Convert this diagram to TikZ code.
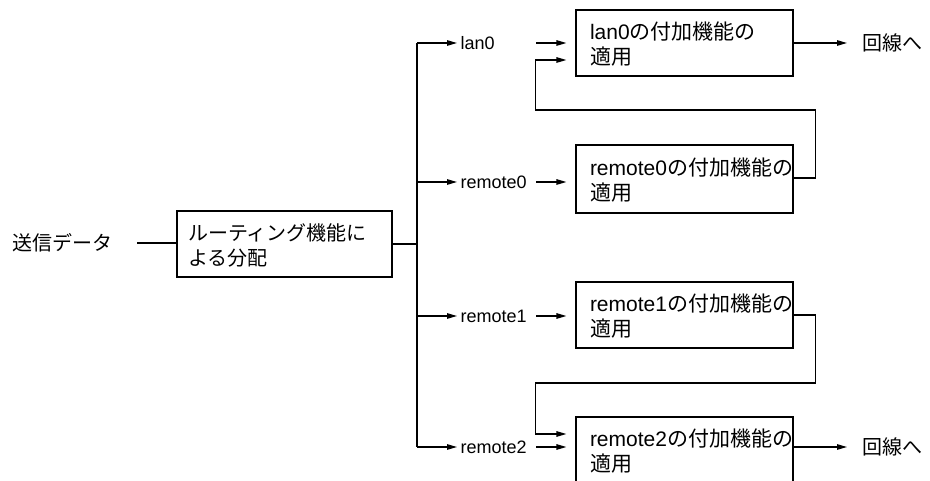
\documentclass[tikz,border=0pt]{standalone}
\usepackage{fontspec}
\setmainfont{Liberation Sans}
\newfontfamily\cjk{Noto Sans CJK JP}
\usetikzlibrary{arrows.meta,calc}
\begin{document}
\begin{tikzpicture}[x=1pt,y=-1pt,
  line width=1.2pt,
  box/.style={draw, line width=1.2pt, minimum width=217pt, minimum height=66pt, inner sep=0pt},
  boxtext/.style={inner sep=0pt, anchor=west, align=left, font=\fontsize{21}{25}\selectfont},
  lab/.style={inner sep=0pt, anchor=west, font=\fontsize{18}{20}\selectfont},
  big/.style={inner sep=0pt, anchor=west, font=\fontsize{20}{24}\selectfont},
  arr/.style={-{Triangle[length=10pt,width=5.5pt]}}
]
\useasboundingbox (0,0) rectangle (930,481);

% left side
\node[big] (send) at (12,243) {\cjk 送信データ};
\node[box, minimum width=215pt] (route) at (284.5,244) {};
\node[boxtext, font=\fontsize{20}{25}\selectfont] (routet) at ([xshift=11pt,yshift=-1pt]route.west)
  {{\cjk ルーティング機能に}\\{\cjk よる分配}};
\coordinate (ttop) at (417,43);
\coordinate (tbot) at (417,447);
\coordinate (tmid) at (417,244);

% branch labels
\node[lab] (l0) at (460,43) {lan0};
\node[lab] (l1) at (460,182) {remote0};
\node[lab] (l2) at (460,316) {remote1};
\node[lab] (l3) at (460,447) {remote2};

% boxes
\node[box] (b0) at (684.5,43) {};
\node[box, minimum height=68pt] (b1) at (684.5,179) {};
\node[box] (b2) at (684.5,315) {};
\node[box] (b3) at (684.5,450) {};
\node[boxtext] (b0t) at ([xshift=14pt,yshift=-1.5pt]b0.west) {lan0{\cjk の付加機能の}\\{\cjk 適用}};
\node[boxtext] (b1t) at ([xshift=14pt,yshift=-1.5pt]b1.west) {remote0{\cjk の付加機能の}\\{\cjk 適用}};
\node[boxtext] (b2t) at ([xshift=14pt,yshift=-1.5pt]b2.west) {remote1{\cjk の付加機能の}\\{\cjk 適用}};
\node[boxtext] (b3t) at ([xshift=14pt,yshift=-1.5pt]b3.west) {remote2{\cjk の付加機能の}\\{\cjk 適用}};

% outputs
\node[big] (o0) at (862,43) {\cjk 回線へ};
\node[big] (o3) at (862,447) {\cjk 回線へ};

% input line
\draw ([xshift=24pt]send.east) -- (send.east -| route.west);
\draw (route.east) -- (tmid);
\draw (ttop) -- (tbot);

% trunk to labels
\foreach \l in {l0,l1,l2,l3}
  \draw[arr] (ttop |- \l.west) -- ([xshift=-3pt]\l.west);

% labels to boxes
\draw[arr] ([xshift=-39pt]b0.west |- l0.west) -- ([xshift=-9pt]b0.west |- l0.west);
\draw[arr] ([xshift=-39pt]b1.west |- l1.west) -- ([xshift=-9pt]b1.west |- l1.west);
\draw[arr] ([xshift=-39pt]b2.west |- l2.west) -- ([xshift=-9pt]b2.west |- l2.west);
\draw[arr] ([xshift=-39pt]b3.west |- l3.west) -- ([xshift=-9pt]b3.west |- l3.west);

% feedback connectors
\draw[arr] ([yshift=1pt]b1.east) -| ++(22,-68) -| ([xshift=-40pt,yshift=-17pt]b0.west)
  -- ([xshift=-9pt,yshift=-17pt]b0.west);
\draw[arr] (b2.east) -| ++(22,68) -| ([xshift=-40pt,yshift=16pt]b3.west)
  -- ([xshift=-9pt,yshift=16pt]b3.west);

% outputs
\draw[arr] (b0.east) -- ([xshift=-15pt]o0.west);
\draw[arr] (b3.east |- o3.west) -- ([xshift=-15pt]o3.west);
\end{tikzpicture}
\end{document}
